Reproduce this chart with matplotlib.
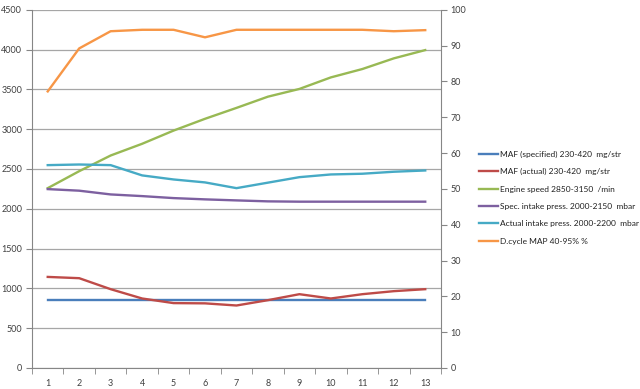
import matplotlib
matplotlib.use("Agg")
import matplotlib.pyplot as plt
from matplotlib.ticker import FixedLocator, NullFormatter

plt.rcParams['font.family'] = ['Lato', 'DejaVu Sans']

# x categories (measurement points)
points = list(range(1, 14))

# series on the left axis
maf_spec = [850] * 13
maf_actual = [1144, 1128, 990, 873, 815, 812, 785, 852, 927, 873, 927, 965, 990]
engine_speed = [2259, 2472, 2669, 2816, 2982, 3130, 3267, 3408, 3505, 3650, 3755, 3889, 3993]
spec_intake = [2247, 2227, 2180, 2159, 2134, 2118, 2105, 2093, 2089, 2089, 2089, 2089, 2089]
actual_intake = [2548, 2556, 2548, 2419, 2368, 2331, 2259, 2328, 2397, 2431, 2440, 2465, 2481]

# series on the right axis (percent)
dcycle_map = [77.2, 89.2, 94.0, 94.4, 94.4, 92.3, 94.4, 94.4, 94.4, 94.4, 94.4, 94.0, 94.3]

labels = ["MAF (specified) 230-420  mg/str",
          "MAF (actual) 230-420  mg/str",
          "Engine speed 2850-3150  /min",
          "Spec. intake press. 2000-2150  mbar",
          "Actual intake press. 2000-2200  mbar",
          "D.cycle MAP 40-95% %"]
colors = ["#4A7EBB", "#BE4B48", "#98B954", "#7D60A0", "#46AAC5", "#F79646"]

fig = plt.figure(figsize=(6.4, 3.89), dpi=100)
ax = fig.add_axes([0.05, 0.054, 0.639, 0.921])
ax2 = ax.twinx()

lines = []
for data, lab, col in zip([maf_spec, maf_actual, engine_speed, spec_intake, actual_intake],
                          labels[:5], colors[:5]):
    ln, = ax.plot(points, data, color=col, lw=1.7, label=lab)
    lines.append(ln)
ln, = ax2.plot(points, dcycle_map, color=colors[5], lw=1.7, label=labels[5])
lines.append(ln)

ax.set_xlim(0.5, 13.5)
ax.set_ylim(0, 4500)
ax.set_yticks(range(0, 4501, 500))
ax2.set_ylim(0, 100)
ax2.set_yticks(range(0, 101, 10))

ax.set_xticks(points)
ax.xaxis.set_minor_locator(FixedLocator([i + 0.5 for i in range(0, 14)]))
ax.xaxis.set_minor_formatter(NullFormatter())
ax.tick_params(axis='x', which='major', length=0, pad=8)
ax.tick_params(axis='x', which='minor', length=4, color='#868686')

ax.grid(axis='y', color='#a6a6a6', lw=0.9)
ax.set_axisbelow(True)

for a in (ax, ax2):
    a.tick_params(axis='y', length=4, color='#868686', labelsize=6.5, labelcolor='#404040', pad=3)
    a.tick_params(axis='x', labelsize=6.5, labelcolor='#404040')
    a.spines['top'].set_visible(False)
    for s in ('left', 'right', 'bottom'):
        a.spines[s].set_color('#868686')
ax.spines['right'].set_visible(False)
ax2.spines['left'].set_visible(False)
ax2.spines['bottom'].set_visible(False)

fig.legend(handles=lines, loc='center left', bbox_to_anchor=(0.744, 0.492),
           frameon=False, fontsize=6.0, handlelength=2.2, handletextpad=0.3,
           labelspacing=1.25, labelcolor='#202020', borderaxespad=0)

fig.savefig("out.png", dpi=100)
